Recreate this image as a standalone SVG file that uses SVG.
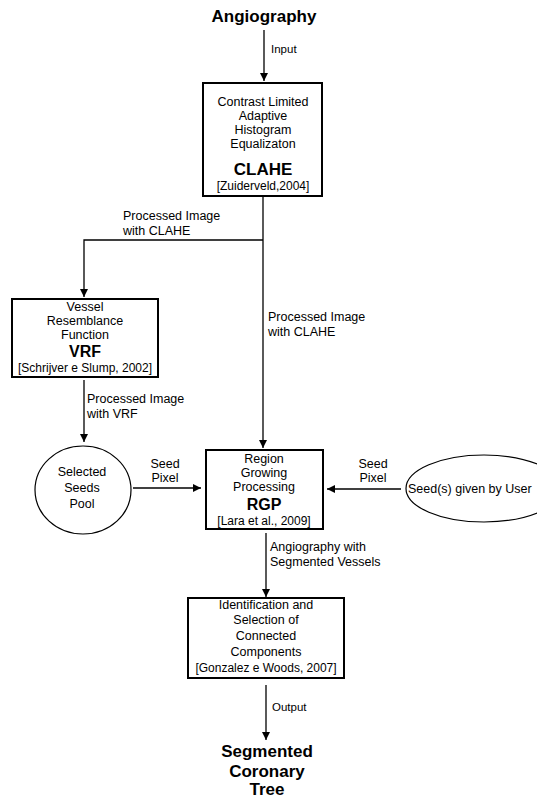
<svg xmlns="http://www.w3.org/2000/svg" width="537" height="800" viewBox="0 0 537 800">
<style>
text{font-family:"Liberation Sans",Arial,sans-serif;fill:#000;}
.t{font-size:12.5px;text-anchor:middle;}
.r{font-size:12px;text-anchor:middle;}
.l{font-size:12.5px;}
.s{font-size:11.5px;}
.b{font-size:17px;font-weight:bold;text-anchor:middle;}
.box{fill:#fff;stroke:#000;stroke-width:2;}
.el{fill:#fff;stroke:#000;stroke-width:1.2;}
.c{fill:none;stroke:#000;stroke-width:1.3;}
</style>
<defs>
<marker id="a" viewBox="0 0 10 10" refX="10" refY="5" markerWidth="8" markerHeight="8" orient="auto" markerUnits="userSpaceOnUse">
<path d="M0,0 L10,5 L0,10 z" fill="#000"/>
</marker>
</defs>
<rect width="537" height="800" fill="#fff"/>
<g id="connectors">
<line class="c" x1="264" y1="30" x2="264" y2="81" marker-end="url(#a)"/>
<line class="c" x1="263" y1="197" x2="263" y2="448" marker-end="url(#a)"/>
<polyline class="c" points="263,240 84,240 84,297" marker-end="url(#a)"/>
<line class="c" x1="84" y1="380" x2="84" y2="442" marker-end="url(#a)"/>
<line class="c" x1="133" y1="488" x2="201" y2="488" marker-end="url(#a)"/>
<line class="c" x1="401" y1="489" x2="327" y2="489" marker-end="url(#a)"/>
<line class="c" x1="266" y1="533" x2="266" y2="597" marker-end="url(#a)"/>
<line class="c" x1="266" y1="685" x2="266" y2="740" marker-end="url(#a)"/>
<text class="s" x="271" y="53">Input</text>
<text class="l" x="123" y="220">Processed Image</text>
<text class="l" x="123" y="235">with CLAHE</text>
<text class="l" x="268" y="321">Processed Image</text>
<text class="l" x="268" y="336">with CLAHE</text>
<text class="l" x="87" y="403">Processed Image</text>
<text class="l" x="87" y="418">with VRF</text>
<text class="t" x="165" y="468">Seed</text>
<text class="t" x="165" y="482">Pixel</text>
<text class="t" x="373" y="468">Seed</text>
<text class="t" x="373" y="482">Pixel</text>
<text class="l" x="270" y="551">Angiography with</text>
<text class="l" x="270" y="566">Segmented Vessels</text>
<text class="s" x="272" y="711">Output</text>
</g>
<g id="angiography">
<text class="b" x="264" y="22">Angiography</text>
</g>
<g id="clahe">
<rect class="box" x="203" y="83" width="119" height="113"/>
<text class="t" x="263" y="106">Contrast Limited</text>
<text class="t" x="263" y="120">Adaptive</text>
<text class="t" x="263" y="134">Histogram</text>
<text class="t" x="263" y="148">Equalizaton</text>
<text class="b" x="263" y="175">CLAHE</text>
<text class="r" x="263" y="190">[Zuiderveld,2004]</text>
</g>
<g id="vrf">
<rect class="box" x="12" y="299" width="146" height="78"/>
<text class="t" x="85" y="311">Vessel</text>
<text class="t" x="85" y="325">Resemblance</text>
<text class="t" x="85" y="339">Function</text>
<text class="b" x="85" y="357" style="font-size:16px">VRF</text>
<text class="r" x="85" y="371.5">[Schrijver e Slump, 2002]</text>
</g>
<g id="seeds-pool">
<ellipse class="el" cx="83" cy="490" rx="48" ry="44"/>
<text class="t" x="82" y="476">Selected</text>
<text class="t" x="82" y="492">Seeds</text>
<text class="t" x="82" y="508">Pool</text>
</g>
<g id="rgp">
<rect class="box" x="206" y="450" width="117" height="79"/>
<text class="t" x="264" y="463">Region</text>
<text class="t" x="264" y="477">Growing</text>
<text class="t" x="264" y="491">Processing</text>
<text class="b" x="264" y="509.5" style="font-size:16px">RGP</text>
<text class="r" x="264" y="525">[Lara et al., 2009]</text>
</g>
<g id="user-seeds">
<ellipse class="el" cx="484" cy="488.5" rx="78" ry="33.5"/>
<text class="l" x="408" y="493">Seed(s) given by User</text>
</g>
<g id="components">
<rect class="box" x="188" y="598" width="156" height="80"/>
<text class="t" x="266" y="609">Identification and</text>
<text class="t" x="266" y="624">Selection of</text>
<text class="t" x="266" y="640">Connected</text>
<text class="t" x="266" y="656">Components</text>
<text class="r" x="266" y="672">[Gonzalez e Woods, 2007]</text>
</g>
<g id="segmented-tree">
<text class="b" x="267" y="757">Segmented</text>
<text class="b" x="267" y="777">Coronary</text>
<text class="b" x="267" y="795">Tree</text>
</g>
</svg>
